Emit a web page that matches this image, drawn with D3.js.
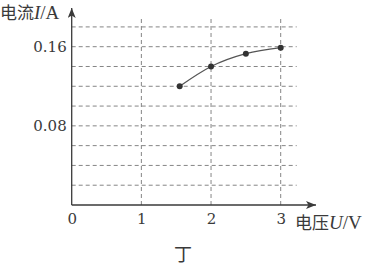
<!DOCTYPE html>
<html>
<head>
<meta charset="utf-8">
<script src="https://cdn.jsdelivr.net/npm/d3@7"></script>
<style>
  body { margin: 0; background: #fff; }
  svg { display: block; }
  .tick text { font-family: "DejaVu Serif", "Liberation Serif", serif; font-size: 15px; fill: #3a3a3a; }
</style>
</head>
<body>
<div id="container"></div>
<script>
// chart values
var voltage = [1.55, 2, 2.5, 3];
var current = [0.12, 0.14, 0.153, 0.159];
var xTicks = [0, 1, 2, 3];
var yLabelTicks = [0.08, 0.16];
var yGrid = [0.02, 0.04, 0.06, 0.08, 0.10, 0.12, 0.14, 0.16, 0.18];
var xGrid = [1, 2, 3];

var w = 371, h = 266;
var svg = d3.select("#container").append("svg")
    .attr("width", w).attr("height", h);

var x = d3.scaleLinear().domain([0, 3]).range([71.7, 280.7]);
var y = d3.scaleLinear().domain([0, 0.16]).range([205, 46.7]);

var ink = "#3a3a3a";
var gridCol = "#858585";

// arrow heads
var defs = svg.append("defs");
defs.append("marker")
    .attr("id", "arrow")
    .attr("viewBox", "0 0 10 8")
    .attr("refX", 10).attr("refY", 4)
    .attr("markerWidth", 10).attr("markerHeight", 8)
    .attr("markerUnits", "userSpaceOnUse")
    .attr("orient", "auto")
  .append("path")
    .attr("d", "M0,0 L10,4 L0,8 L2.5,4 Z")
    .attr("fill", ink);

// dashed grid
var grid = svg.append("g").attr("stroke", gridCol).attr("stroke-width", 1)
    .attr("stroke-dasharray", "4,3").attr("fill", "none");
grid.selectAll("line.h").data(yGrid).enter().append("line")
    .attr("class", "h")
    .attr("x1", x(0)).attr("x2", x(3) + 16)
    .attr("y1", function(d) { return y(d); })
    .attr("y2", function(d) { return y(d); });
grid.selectAll("line.v").data(xGrid).enter().append("line")
    .attr("class", "v")
    .attr("x1", function(d) { return x(d); })
    .attr("x2", function(d) { return x(d); })
    .attr("y1", y(0)).attr("y2", y(0.18) - 9);

// axes lines with arrows
svg.append("line")
    .attr("x1", x(0)).attr("x2", x(0))
    .attr("y1", y(0)).attr("y2", 8)
    .attr("stroke", ink).attr("stroke-width", 1.3)
    .attr("marker-end", "url(#arrow)");
svg.append("line")
    .attr("x1", x(0)).attr("x2", 316)
    .attr("y1", y(0)).attr("y2", y(0))
    .attr("stroke", ink).attr("stroke-width", 1.3)
    .attr("marker-end", "url(#arrow)");

// tick labels
var gy = svg.append("g")
    .attr("transform", "translate(" + x(0) + ",0)")
    .call(d3.axisLeft(y).tickValues(yLabelTicks).tickSize(0).tickPadding(5)
        .tickFormat(d3.format(".2f")));
gy.select(".domain").remove();

var gx = svg.append("g")
    .attr("transform", "translate(0," + y(0) + ")")
    .call(d3.axisBottom(x).tickValues(xTicks).tickSize(0).tickFormat(d3.format("d")));
gx.select(".domain").remove();
gx.selectAll(".tick text").attr("y", 19).attr("dy", 0);

// curve
var pts = voltage.map(function(v, i) { return [v, current[i]]; });
var line = d3.line()
    .x(function(d) { return x(d[0]); })
    .y(function(d) { return y(d[1]); })
    .curve(d3.curveMonotoneX);
svg.append("path")
    .datum(pts)
    .attr("d", line)
    .attr("fill", "none")
    .attr("stroke", "#555")
    .attr("stroke-width", 1.3);
svg.selectAll("circle.pt").data(pts).enter().append("circle")
    .attr("class", "pt")
    .attr("cx", function(d) { return x(d[0]); })
    .attr("cy", function(d) { return y(d[1]); })
    .attr("r", 3)
    .attr("fill", "#333");

// axis titles
function title(tx, ty, parts, anchor) {
    var t = svg.append("text")
        .attr("x", tx).attr("y", ty)
        .attr("text-anchor", anchor || "start")
        .attr("fill", ink);
    parts.forEach(function(p) {
        t.append("tspan")
            .attr("font-family", p.cjk ? "'Noto Sans CJK SC', sans-serif" : "'Liberation Serif', serif")
            .attr("font-style", p.it ? "italic" : "normal")
            .attr("font-size", p.cjk ? 17 : 19)
            .text(p.s);
    });
    return t;
}
title(0, 19, [{s: "电流", cjk: true}, {s: "I", it: true}, {s: "/A"}]);
title(295, 229, [{s: "电压", cjk: true}, {s: "U", it: true}, {s: "/V"}]);

svg.append("text")
    .attr("x", 183).attr("y", 261)
    .attr("text-anchor", "middle")
    .attr("font-family", "'Noto Sans CJK SC', sans-serif")
    .attr("font-size", 18)
    .attr("fill", ink)
    .text("丁");
</script>
</body>
</html>
